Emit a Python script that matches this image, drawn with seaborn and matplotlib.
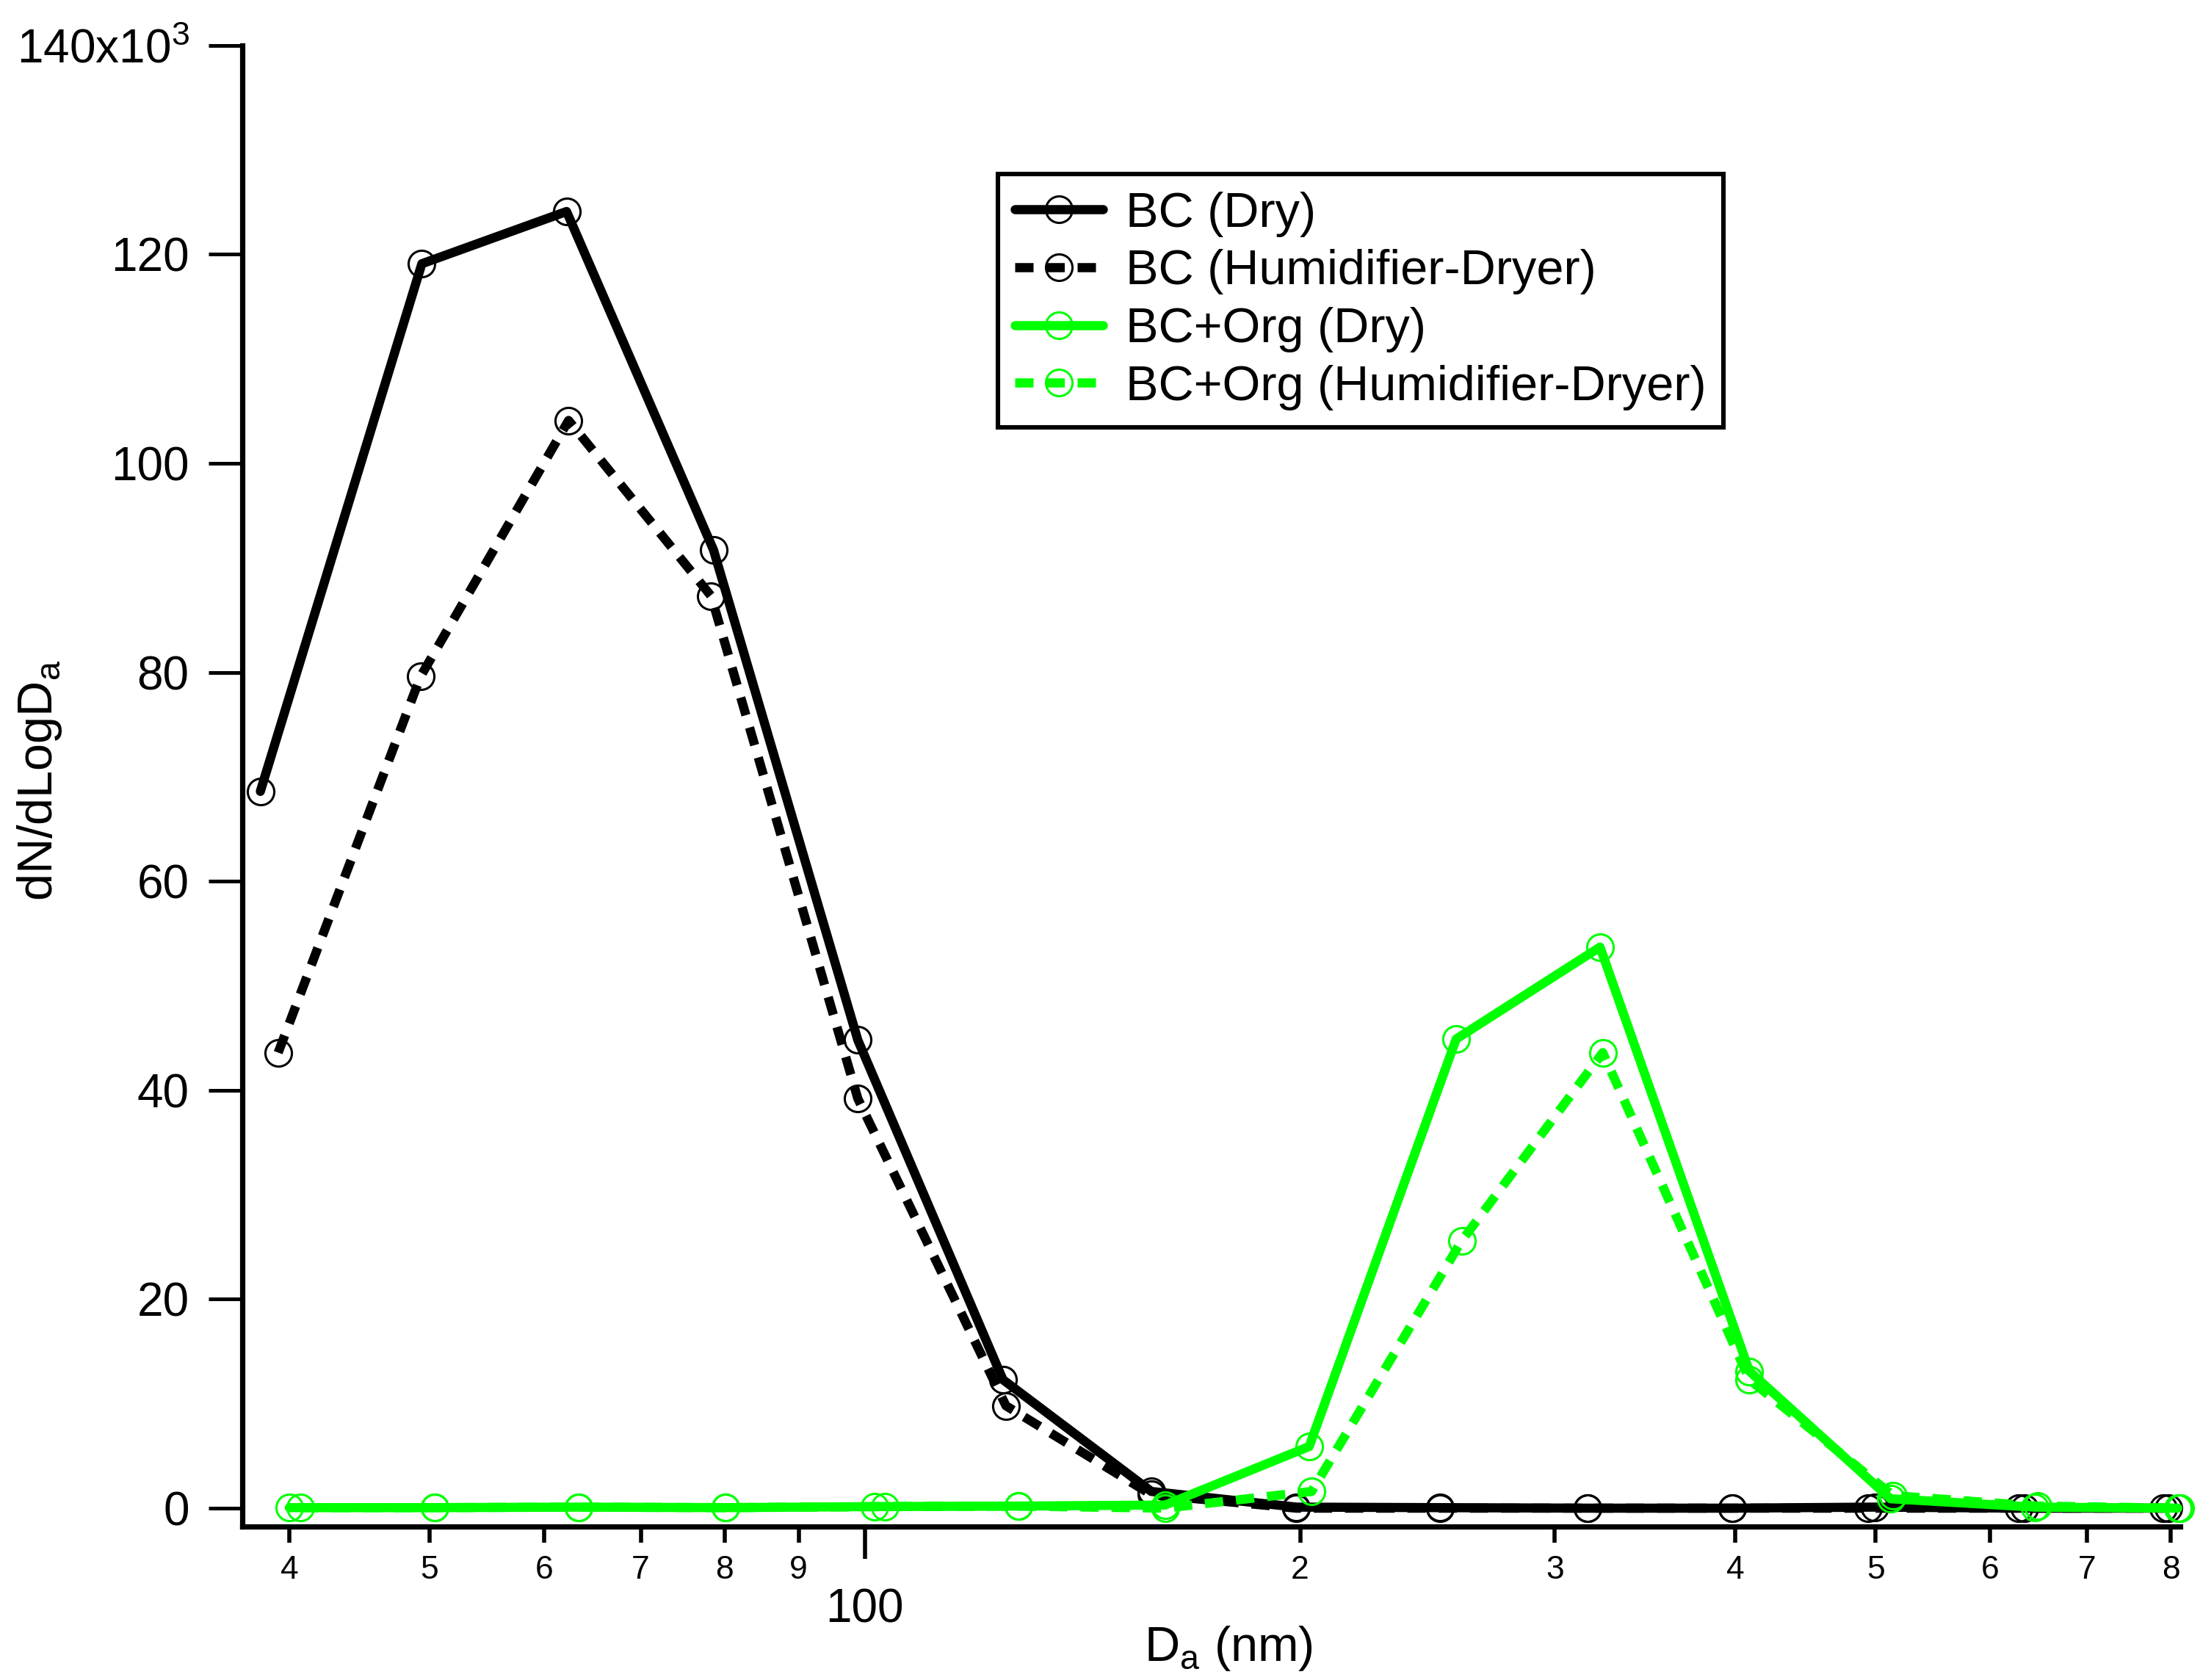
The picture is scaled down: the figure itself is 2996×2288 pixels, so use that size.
import seaborn as sns
import matplotlib.pyplot as plt
from matplotlib.ticker import FixedLocator, FixedFormatter

# Dados (diâmetro em nm, dN/dLogDa)
d_bc_dry = [38.2, 49.4, 62.2, 78.6, 98.9, 124.6, 157.8, 198.8, 250, 316, 398, 499, 634, 797]
n_bc_dry = [68600, 119100, 124100, 91700, 44800, 12300, 1600, 100, 50, 0, 0, 100, 0, 0]

d_bc_hd = [39.3, 49.3, 62.4, 78.3, 98.9, 125.2, 157.8, 198.8, 250, 316, 398, 494, 628, 790]
n_bc_hd = [43600, 79600, 104100, 87300, 39200, 9800, 1300, 0, 0, 0, 0, 0, 0, 0]

d_org_dry = [40.0, 50.4, 63.4, 80.1, 101.6, 127.7, 161.3, 202.9, 256.4, 322.4, 409, 512, 644, 809]
n_org_dry = [50, 50, 100, 50, 150, 200, 300, 5900, 44900, 53700, 13100, 900, 100, 0]

d_org_hd = [40.7, 50.4, 63.4, 80.1, 103.2, 127.7, 161.3, 203.7, 258.7, 323.8, 409, 514, 647, 812]
n_org_hd = [50, 50, 100, 50, 150, 200, 0, 1600, 25600, 43600, 12300, 1200, 200, 0]

labels = ["BC (Dry)", "BC (Humidifier-Dryer)", "BC+Org (Dry)", "BC+Org (Humidifier-Dryer)"]

y_ticks = [0, 20000, 40000, 60000, 80000, 100000, 120000, 140000]
y_tick_labels = ["0", "20", "40", "60", "80", "100", "120", r"140x10$^\mathregular{3}$"]
x_minor = [40, 50, 60, 70, 80, 90, 200, 300, 400, 500, 600, 700, 800]
x_minor_labels = ["4", "5", "6", "7", "8", "9", "2", "3", "4", "5", "6", "7", "8"]

sns.set_style("ticks")
plt.rcParams['font.family'] = ['Liberation Sans', 'DejaVu Sans']
plt.rcParams['mathtext.fontset'] = 'custom'
plt.rcParams['mathtext.rm'] = 'Liberation Sans'
for chave in ['text.color', 'axes.labelcolor', 'xtick.color', 'ytick.color', 'axes.edgecolor']:
    plt.rcParams[chave] = 'black'

fig = plt.figure(figsize=(14.98, 11.44), dpi=200)
ax = fig.add_axes([0.110, 0.0914, 0.881, 0.8816])

green = "#00FF00"
dash = (0, (2.0, 1.4))
series = [
    (d_bc_dry, n_bc_dry, "black", "-"),
    (d_bc_hd, n_bc_hd, "black", dash),
    (d_org_dry, n_org_dry, green, "-"),
    (d_org_hd, n_org_hd, green, dash),
]

for (x, y, cor, estilo), lab in zip(series, labels):
    sns.lineplot(x=x, y=y, ax=ax, color=cor, linestyle=estilo, linewidth=4.5,
                 marker="o", markersize=13, markerfacecolor="none",
                 markeredgecolor=cor, markeredgewidth=1.1, label=lab,
                 sort=False, clip_on=False)

# Eixos
ax.set_xscale("log")
ax.set_xlim(37.1, 812)
ax.set_ylim(-1750, 140000)
ax.xaxis.set_major_locator(FixedLocator([100]))
ax.xaxis.set_major_formatter(FixedFormatter(["100"]))
ax.xaxis.set_minor_locator(FixedLocator(x_minor))
ax.xaxis.set_minor_formatter(FixedFormatter(x_minor_labels))
ax.set_yticks(y_ticks)
ax.set_yticklabels(y_tick_labels)

ax.tick_params(axis="x", which="major", length=16, width=2, pad=14, labelsize=23, direction="out")
ax.tick_params(axis="x", which="minor", length=8, width=2, pad=6, labelsize=16, direction="out")
ax.tick_params(axis="y", which="major", length=16.5, width=1.8, pad=9.4, labelsize=23, direction="out")

for lado in ["top", "right"]:
    ax.spines[lado].set_visible(False)
for lado in ["left", "bottom"]:
    ax.spines[lado].set_linewidth(2.6)

ax.set_xlabel(r"D$_\mathregular{a}$ (nm)", fontsize=24)
ax.set_ylabel(r"dN/dLogD$_\mathregular{a}$", fontsize=24)
ax.xaxis.set_label_coords(0.509, -0.066)
ax.yaxis.set_label_coords(-0.092, 0.504)

leg = ax.legend(loc="upper left", bbox_to_anchor=(0.39, 0.913), fontsize=24,
                frameon=True, fancybox=False, shadow=False, framealpha=1,
                edgecolor="black", borderaxespad=0, borderpad=0.35,
                handlelength=1.8, handletextpad=0.46, labelspacing=0.25,
                numpoints=1)
leg.get_frame().set_linewidth(2.2)

plt.savefig("out.png", dpi=200)
